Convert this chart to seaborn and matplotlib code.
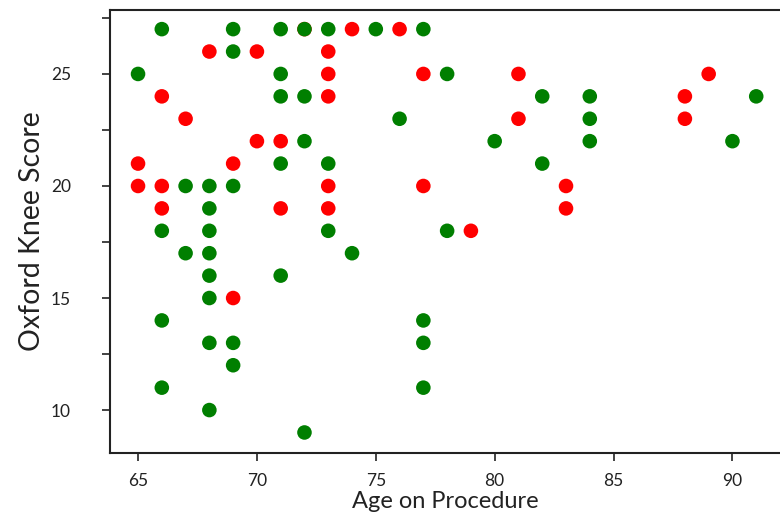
import pandas as pd
import numpy as np
import matplotlib
matplotlib.use('Agg')
import matplotlib.pyplot as plt
import seaborn as sns

# ─────────────────────────────────────────
# DATA
# ─────────────────────────────────────────
red_age = [72, 74, 76, 68, 70, 73, 73, 77, 81, 89, 66, 73, 88, 67, 81, 88,
           70, 71, 65, 69, 65, 66, 73, 77, 83, 66, 71, 73, 83, 79, 69]
red_score = [27, 27, 27, 26, 26, 26, 25, 25, 25, 25, 24, 24, 24, 23, 23, 23,
             22, 22, 21, 21, 20, 20, 20, 20, 20, 19, 19, 19, 19, 18, 15]

green_age = [66, 69, 71, 72, 73, 75, 77, 69, 65, 71, 78, 71, 72, 82, 84, 91,
             76, 84, 72, 80, 84, 90, 71, 73, 82, 67, 68, 69, 68, 66, 68, 73,
             78, 67, 68, 74, 68, 71, 68, 66, 77, 68, 69, 77, 69, 66, 77, 68, 72]
green_score = [27, 27, 27, 27, 27, 27, 27, 26, 25, 25, 25, 24, 24, 24, 24, 24,
               23, 23, 22, 22, 22, 22, 21, 21, 21, 20, 20, 20, 19, 18, 18, 18,
               18, 17, 17, 17, 16, 16, 15, 14, 14, 13, 13, 13, 12, 11, 11, 10, 9]

y_major = [10, 15, 20, 25]
x_ticks = [65, 70, 75, 80, 85, 90]

df = pd.DataFrame({
    'age': red_age + green_age,
    'score': red_score + green_score,
    'group': ['red'] * len(red_age) + ['green'] * len(green_age),
})

# ─────────────────────────────────────────
# PLOT
# ─────────────────────────────────────────
sns.set_style('ticks')
plt.rcParams['font.family'] = ['Lato', 'DejaVu Sans']

fig = plt.figure(figsize=(7.8, 5.19), dpi=100)
ax = fig.add_axes([0.141, 0.127, 0.859, 0.854])

sns.scatterplot(data=df, x='age', y='score', hue='group',
                palette={'red': '#ff0000', 'green': '#007f00'},
                s=110, edgecolor='none', legend=False, ax=ax)

ax.set_xlim(63.82, 92.0)
ax.set_ylim(8.08, 27.86)
ax.set_xticks(x_ticks)
ax.set_yticks(y_major)
ax.set_yticks([12.5, 17.5, 22.5, 27.5], minor=True)
ax.tick_params(axis='both', which='both', direction='out', length=6,
               width=1.2, color='#222222', labelsize=12.5, labelcolor='#222222')
ax.tick_params(axis='y', pad=22)
ax.tick_params(axis='x', pad=8)

for side in ['left', 'bottom', 'top']:
    ax.spines[side].set_linewidth(1.5)
    ax.spines[side].set_color('#222222')
ax.spines['right'].set_visible(False)

ax.set_xlabel('Age on Procedure', fontsize=17, color='#222222', labelpad=2)
ax.set_ylabel('Oxford Knee Score', fontsize=20.5, color='#222222', labelpad=4)

fig.savefig('out.png', dpi=100)
